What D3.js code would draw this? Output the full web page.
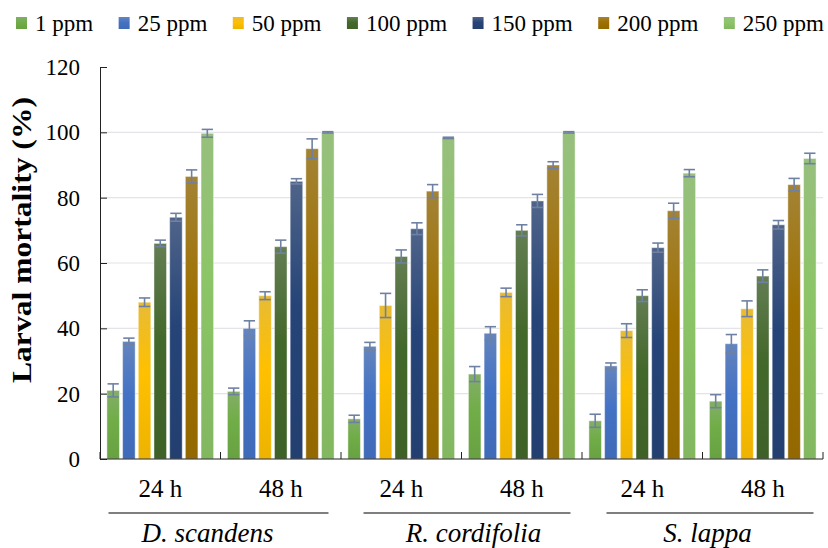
<!DOCTYPE html>
<html lang="en">
  <head>
    <meta charset="UTF-8" />
    <title>Larval mortality</title>
    <script src="https://d3js.org/d3.v7.min.js"></script>
    <style>
      body { margin: 0; background: #fff; }
      text { font-family: "Liberation Serif", "Times New Roman", serif; fill: #000; }
    </style>
  </head>
  <body>
    <svg id="chart" width="828" height="548" font-family="Liberation Serif, serif"></svg>

    <script>
      // data
      const timePoints = ["24 h", "48 h", "24 h", "48 h", "24 h", "48 h"];
      const species = ["D. scandens", "R. cordifolia", "S. lappa"];
      const doses = ["1 ppm", "25 ppm", "50 ppm", "100 ppm", "150 ppm", "200 ppm", "250 ppm"];
      const mortality = [
        [21, 36, 48, 66, 74, 86.5, 99.7],
        [20.7, 40, 50, 65, 85, 95, 100],
        [12.3, 34.5, 47, 62, 70.5, 82, 98.3],
        [26, 38.5, 51, 70, 79, 90, 100],
        [11.7, 28.5, 39.3, 50, 64.7, 76, 87.5],
        [17.7, 35.3, 46, 56, 71.7, 84, 92]
      ];
      const errors = [
        [2, 1, 1.3, 1, 1.2, 2, 1.2],
        [1, 2.3, 1.2, 2, 0.8, 3, 0.2],
        [1.1, 1.2, 3.7, 2, 1.8, 2, 0.2],
        [2.3, 2, 1.3, 1.7, 2, 1, 0.2],
        [2, 0.9, 2.1, 1.8, 1.4, 2.3, 1.1],
        [2, 2.8, 2.4, 1.9, 1.3, 1.9, 1.6]
      ];
      const yTicks = [0, 20, 40, 60, 80, 100, 120];
      const colors = ["#70AD47", "#4472C4", "#FFC000", "#43682B", "#264478", "#9E7000", "#8CC567"];

      const svg = d3.select("#chart");
      const plotLeft = 100, plotRight = 823, plotTop = 67, plotBottom = 459;

      const x0 = d3.scaleBand().domain(d3.range(timePoints.length)).range([plotLeft, plotRight]);
      const x1 = d3.scaleBand().domain(doses).range([0, x0.bandwidth()])
        .paddingInner(0.2).paddingOuter(0.44);
      const y = d3.scaleLinear().domain([0, 120]).range([plotBottom, plotTop]);

      // gradients like the spreadsheet fill
      const defs = svg.append("defs");
      doses.forEach((d, i) => {
        const g = defs.append("linearGradient")
          .attr("id", "grad" + i)
          .attr("x1", 0).attr("y1", 0).attr("x2", 0).attr("y2", 1);
        g.append("stop").attr("offset", "0%")
          .attr("stop-color", d3.interpolateRgb(colors[i], "#b0b0b0")(0.3));
        g.append("stop").attr("offset", "45%").attr("stop-color", colors[i]);
        g.append("stop").attr("offset", "100%")
          .attr("stop-color", d3.color(colors[i]).darker(0.2));
      });

      // grid
      svg.append("g")
        .selectAll("line")
        .data(yTicks.filter((t) => t > 0 && t < 120))
        .join("line")
        .attr("x1", plotLeft).attr("x2", plotRight)
        .attr("y1", (d) => y(d)).attr("y2", (d) => y(d))
        .attr("stroke", "#e3e3e8").attr("stroke-width", 1.2);

      // bars
      const groups = svg.append("g")
        .selectAll("g")
        .data(mortality)
        .join("g")
        .attr("transform", (d, i) => `translate(${x0(i)},0)`);

      groups.selectAll("rect")
        .data((d) => d)
        .join("rect")
        .attr("x", (d, j) => x1(doses[j]))
        .attr("y", (d) => y(d))
        .attr("width", x1.bandwidth())
        .attr("height", (d) => y(0) - y(d))
        .attr("fill", (d, j) => `url(#grad${j})`)
        .attr("stroke", "rgba(255,255,255,0.45)")
        .attr("stroke-width", 1);

      // error bars
      groups.each(function (row, i) {
        const g = d3.select(this);
        row.forEach((v, j) => {
          const cx = x1(doses[j]) + x1.bandwidth() / 2;
          const lo = y(v - errors[i][j]), hi = y(v + errors[i][j]);
          const w = x1.bandwidth() * 0.45;
          const eb = g.append("g").attr("stroke", "#6f81a3").attr("stroke-width", 1.6);
          eb.append("line").attr("x1", cx).attr("x2", cx).attr("y1", lo).attr("y2", hi);
          eb.append("line").attr("x1", cx - w).attr("x2", cx + w).attr("y1", lo).attr("y2", lo);
          eb.append("line").attr("x1", cx - w).attr("x2", cx + w).attr("y1", hi).attr("y2", hi);
        });
      });

      // y axis
      const yAxis = svg.append("g").attr("transform", `translate(${plotLeft},0)`)
        .call(d3.axisLeft(y).tickValues(yTicks).tickSizeInner(-7).tickSizeOuter(0).tickPadding(20));
      yAxis.attr("font-family", null);
      yAxis.select(".domain").attr("stroke", "#222");
      yAxis.selectAll(".tick line").attr("stroke", "#222");
      yAxis.selectAll(".tick text")
        .style("font-size", "23px")
        .attr("fill", "#000");

      // x axis with group ticks
      svg.append("line")
        .attr("x1", plotLeft).attr("x2", plotRight)
        .attr("y1", plotBottom).attr("y2", plotBottom)
        .attr("stroke", "#222").attr("stroke-width", 1);
      svg.append("g")
        .selectAll("line")
        .data(d3.range(timePoints.length + 1))
        .join("line")
        .attr("x1", (i) => plotLeft + i * x0.step()).attr("x2", (i) => plotLeft + i * x0.step())
        .attr("y1", plotBottom).attr("y2", plotBottom - 7)
        .attr("stroke", "#222");

      svg.append("g")
        .selectAll("text")
        .data(timePoints)
        .join("text")
        .attr("x", (d, i) => x0(i) + x0.bandwidth() / 2)
        .attr("y", 497)
        .attr("text-anchor", "middle")
        .style("font-size", "25px")
        .text((d) => d);

      // species underline + names (hand-drawn in the original, so not quite centred)
      const lineEnds = [[-112, 108], [-98, 109], [-96, 111]];
      const nameShift = [-13, 12, 5];
      const sp = svg.append("g")
        .selectAll("g")
        .data(species)
        .join("g")
        .attr("transform", (d, i) => `translate(${x0(i * 2 + 1)},0)`);
      sp.append("line")
        .attr("x1", (d, i) => lineEnds[i][0]).attr("x2", (d, i) => lineEnds[i][1])
        .attr("y1", 513).attr("y2", 513)
        .attr("stroke", "#000").attr("stroke-width", 1.2);
      sp.append("text")
        .attr("x", (d, i) => nameShift[i]).attr("y", 542)
        .attr("text-anchor", "middle")
        .style("font-size", "27px")
        .style("font-style", "italic")
        .text((d) => d);

      // y title
      svg.append("text")
        .attr("transform", "translate(31,240) rotate(-90)")
        .attr("text-anchor", "middle")
        .attr("textLength", 286)
        .attr("lengthAdjust", "spacingAndGlyphs")
        .style("font-size", "28px")
        .style("font-weight", "bold")
        .text("Larval mortality (%)");

      // legend
      const legend = svg.append("g").attr("transform", "translate(16,0)");
      let lx = 0;
      doses.forEach((d, i) => {
        const item = legend.append("g").attr("transform", `translate(${lx},0)`);
        item.append("rect")
          .attr("x", 0).attr("y", 17).attr("width", 11).attr("height", 12)
          .attr("fill", `url(#grad${i})`);
        const t = item.append("text")
          .attr("x", 19).attr("y", 31)
          .style("font-size", "23px")
          .text(d);
        lx += 19 + t.node().getComputedTextLength() + 25.5;
      });
    </script>
  </body>
</html>
